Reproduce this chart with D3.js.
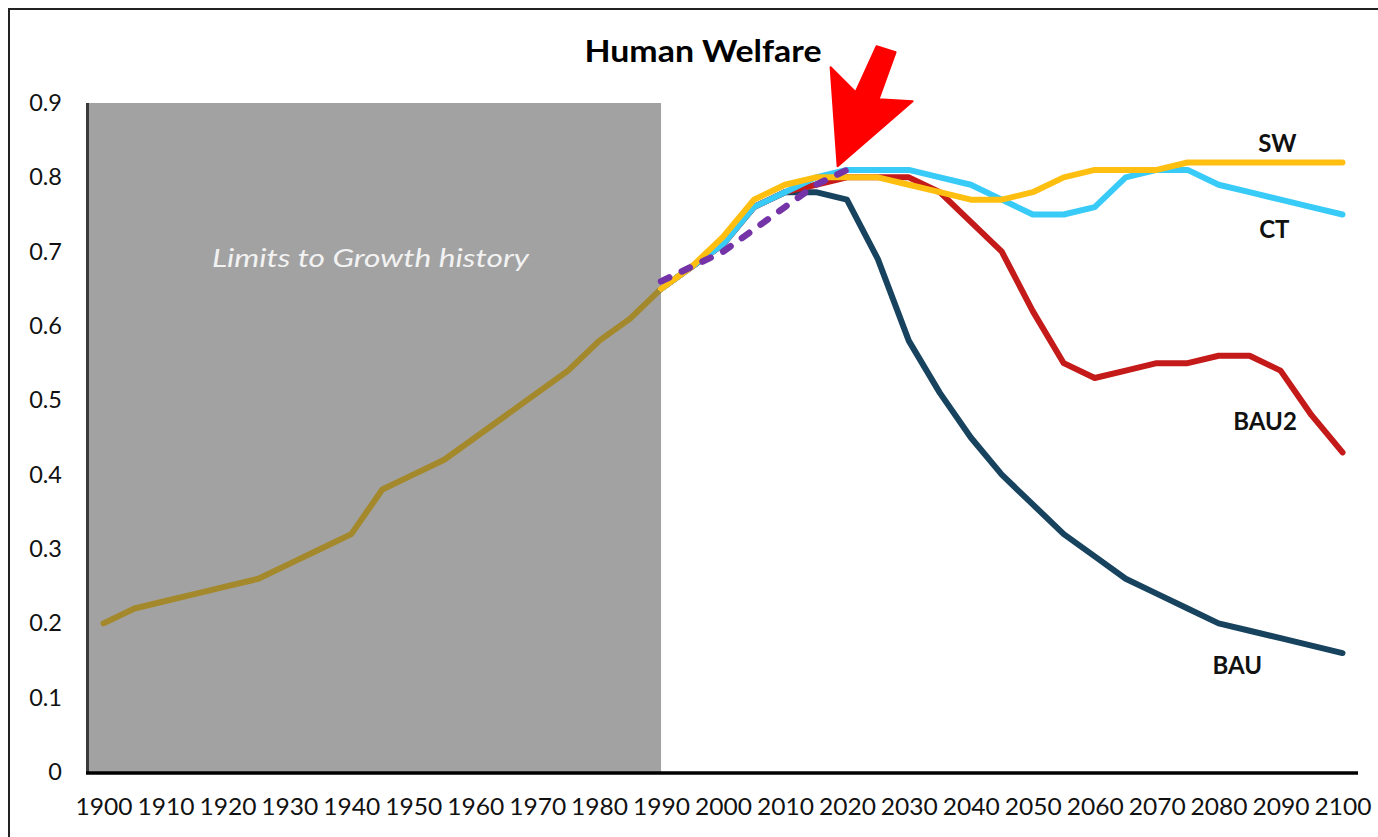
<!DOCTYPE html>
<html>
<head>
<meta charset="utf-8">
<script src="https://cdn.jsdelivr.net/npm/d3@7"></script>
<style>
  html, body { margin: 0; padding: 0; background: #fff; }
  svg { display: block; }
</style>
</head>
<body>
<svg id="chart" width="1378" height="837"></svg>
<script>
// ---------- data ----------
const historyYears  = [1900,1905,1910,1915,1920,1925,1930,1935,1940,1945,1950,1955,1960,1965,1970,1975,1980,1985,1990];
const historyValues = [0.20,0.22,0.23,0.24,0.25,0.26,0.28,0.30,0.32,0.38,0.40,0.42,0.45,0.48,0.51,0.54,0.58,0.61,0.65];

const scenarioYears = [1990,1995,2000,2005,2010,2015,2020,2025,2030,2035,2040,2045,2050,2055,2060,2065,2070,2075,2080,2085,2090,2095,2100];
const bauValues  = [0.65,0.68,0.71,0.76,0.78,0.78,0.77,0.69,0.58,0.51,0.45,0.40,0.36,0.32,0.29,0.26,0.24,0.22,0.20,0.19,0.18,0.17,0.16];
const bau2Values = [0.65,0.68,0.71,0.76,0.78,0.79,0.80,0.80,0.80,0.78,0.74,0.70,0.62,0.55,0.53,0.54,0.55,0.55,0.56,0.56,0.54,0.48,0.43];
const ctValues   = [0.65,0.68,0.71,0.76,0.78,0.80,0.81,0.81,0.81,0.80,0.79,0.77,0.75,0.75,0.76,0.80,0.81,0.81,0.79,0.78,0.77,0.76,0.75];
const swValues   = [0.65,0.68,0.72,0.77,0.79,0.80,0.80,0.80,0.79,0.78,0.77,0.77,0.78,0.80,0.81,0.81,0.81,0.82,0.82,0.82,0.82,0.82,0.82];

const observedYears  = [1990,1995,2000,2005,2010,2015,2020];
const observedValues = [0.66,0.68,0.70,0.73,0.76,0.79,0.81];

const xTickLabels = [1900,1910,1920,1930,1940,1950,1960,1970,1980,1990,2000,2010,2020,2030,2040,2050,2060,2070,2080,2090,2100];
const yTickValues = [0,0.1,0.2,0.3,0.4,0.5,0.6,0.7,0.8,0.9];
const yTickLabels = ["0","0.1","0.2","0.3","0.4","0.5","0.6","0.7","0.8","0.9"];

const historyStart = 1897.5, historyEnd = 1990;   // shaded region
const arrowYear = 2018.5, arrowValue = 0.815;      // arrow tip

// ---------- setup ----------
const svg = d3.select("#chart");
const FONT = "Lato, 'Open Sans', 'DejaVu Sans', sans-serif";

const x = d3.scaleLinear().domain([1897.5, 2102.5]).range([88, 1358]);
const y = d3.scaleLinear().domain([0, 0.9]).range([772, 103]);

// frame
svg.append("rect").attr("x", 9).attr("y", 9).attr("width", 1500).attr("height", 1000)
  .attr("fill", "none").attr("stroke", "#222").attr("stroke-width", 2);

// shaded history region
svg.append("rect")
  .attr("x", x(historyStart)).attr("y", y(0.9))
  .attr("width", x(historyEnd) - x(historyStart))
  .attr("height", y(0) - y(0.9))
  .attr("fill", "#a2a2a2");

svg.append("text")
  .attr("x", (x(historyStart) + x(historyEnd)) / 2 - 4).attr("y", 267)
  .attr("text-anchor", "middle")
  .attr("font-family", FONT).attr("font-style", "italic")
  .attr("font-size", 26).attr("fill", "#f2f2f2")
  .attr("textLength", 317).attr("lengthAdjust", "spacingAndGlyphs")
  .text("Limits to Growth history");

// y axis
const yAxis = d3.axisLeft(y).tickValues(yTickValues)
  .tickFormat((d, i) => yTickLabels[i]).tickSize(0).tickPadding(26);
const gy = svg.append("g").attr("transform", `translate(${x(historyStart)},0)`).call(yAxis);
gy.select(".domain").remove();
gy.selectAll("text").attr("font-family", FONT).attr("font-size", 23.5).attr("fill", "#111");

svg.append("line")
  .attr("x1", x(historyStart) - 0.5).attr("x2", x(historyStart) - 0.5)
  .attr("y1", y(0.9)).attr("y2", y(0))
  .attr("stroke", "#3a3a3a").attr("stroke-width", 3);

// x axis
const xAxis = d3.axisBottom(x).tickValues(xTickLabels)
  .tickFormat(d3.format("d")).tickSize(0).tickPadding(27);
const gx = svg.append("g").attr("transform", `translate(0,${y(0)})`).call(xAxis);
gx.select(".domain").remove();
gx.selectAll("text").attr("font-family", FONT).attr("font-size", 22.5).attr("fill", "#111")
  .attr("textLength", 57).attr("lengthAdjust", "spacingAndGlyphs");

svg.append("line")
  .attr("x1", x(historyStart) - 2).attr("x2", x(2102.5))
  .attr("y1", y(0) + 1).attr("y2", y(0) + 1)
  .attr("stroke", "#000").attr("stroke-width", 3.5);

// lines
const line = d3.line().x(d => x(d[0])).y(d => y(d[1]));
function drawSeries(years, values, color, dash) {
  const p = svg.append("path")
    .datum(years.map((yr, i) => [yr, values[i]]))
    .attr("d", line)
    .attr("fill", "none")
    .attr("stroke", color)
    .attr("stroke-width", 6)
    .attr("stroke-linejoin", "round")
    .attr("stroke-linecap", "round");
  if (dash) p.attr("stroke-dasharray", dash).attr("stroke-width", 6.5);
  return p;
}
drawSeries(historyYears, historyValues, "#a4892c");
drawSeries(scenarioYears, bauValues, "#17435f");
drawSeries(scenarioYears, bau2Values, "#c41a1a");
drawSeries(scenarioYears, ctValues, "#38cbf8");
drawSeries(scenarioYears, swValues, "#ffbf10");
drawSeries(observedYears, observedValues, "#7434a8", "9,14");

// series labels
const labels = [
  { text: "SW",   year: 2089.5, value: 0.82, dy: -10 },
  { text: "CT",   year: 2089,   value: 0.77, dy: 38 },
  { text: "BAU2", year: 2087.5, value: 0.54, dy: 59 },
  { text: "BAU",  year: 2083,   value: 0.19, dy: 43 }
];
svg.selectAll("text.lbl").data(labels).enter().append("text")
  .attr("class", "lbl")
  .attr("x", d => x(d.year))
  .attr("y", d => y(d.value) + d.dy)
  .attr("text-anchor", "middle")
  .attr("font-family", FONT).attr("font-weight", "bold")
  .attr("font-size", 24).attr("fill", "#111")
  .text(d => d.text);

// title
svg.append("text")
  .attr("x", 703).attr("y", 62)
  .attr("text-anchor", "middle")
  .attr("font-family", FONT).attr("font-weight", "bold")
  .attr("font-size", 31).attr("fill", "#000")
  .attr("textLength", 237).attr("lengthAdjust", "spacingAndGlyphs")
  .text("Human Welfare");

// red arrow annotation
const tipX = x(arrowYear), tipY = y(arrowValue);
const arrowShape = [[0,0],[-7,-99],[18,-74],[39,-120],[58,-114],[41,-67],[75,-65]];
svg.append("polygon")
  .attr("points", arrowShape.map(p => [tipX + p[0], tipY + p[1]].join(",")).join(" "))
  .attr("fill", "#ff0000")
  .attr("stroke", "#ff0000").attr("stroke-width", 2).attr("stroke-linejoin", "round");
</script>
</body>
</html>
